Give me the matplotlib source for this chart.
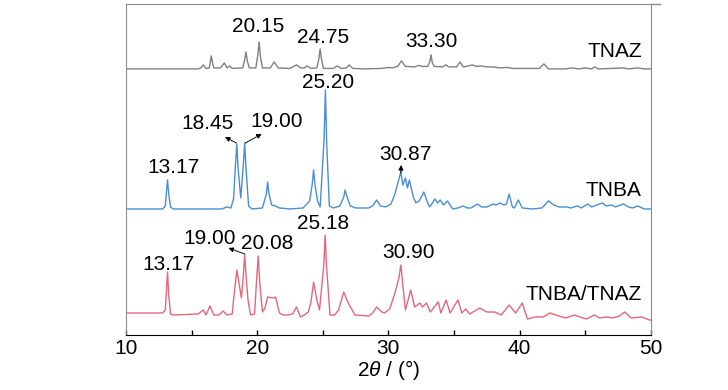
import matplotlib
matplotlib.use('Agg')
import matplotlib.pyplot as plt
from matplotlib import font_manager

# narrow Arial-like face if available
installed = {f.name for f in font_manager.fontManager.ttflist}
if 'Liberation Sans Narrow' in installed:
    family, fs = 'Liberation Sans Narrow', 17
else:
    family, fs = 'Liberation Sans', 15
plt.rcParams['font.family'] = [family, 'DejaVu Sans']
plt.rcParams['mathtext.fontset'] = 'custom'
plt.rcParams['mathtext.it'] = family + ':italic'
plt.rcParams['mathtext.rm'] = family

# 2theta (deg) / intensity (a.u., relative to each pattern's baseline)
tnaz_x = [10.0, 15.5, 15.7, 15.9, 16.1, 16.35, 16.43, 16.5, 16.6, 16.7, 17.2, 17.5, 17.7, 17.9, 18.1, 18.9,
          19.05, 19.15, 19.25, 19.4, 19.9, 20.05, 20.15, 20.25, 20.4, 21.0, 21.3, 21.6, 22.5, 23.0, 23.3,
          23.6, 23.8, 24.1, 24.55, 24.7, 24.8, 24.9, 25.05, 25.8, 26.1, 26.4, 26.8, 27.0, 27.3, 28.0, 29.5,
          30.0, 30.3, 30.7, 31.0, 31.3, 32.0, 32.3, 32.6, 33.0, 33.15, 33.25, 33.35, 33.5, 34.1, 34.4,
          34.6, 35.2, 35.45, 35.7, 36.1, 36.4, 36.7, 37.1, 37.5, 38.0, 38.5, 39.0, 39.5, 40.0, 41.5, 41.85,
          42.2, 43.5, 44.0, 44.5, 45.0, 45.5, 45.7, 46.0, 47.0, 47.9, 48.3, 49.0, 49.5, 50.0]
tnaz_y = [0, 0, 1, 4, 0.5, 1, 7, 13, 6, 1, 1, 6, 1, 3, 0.5, 1,
          9, 17, 8, 1, 1, 14, 27, 12, 1, 1, 7, 1, 0.5, 4, 1,
          1, 3, 0.5, 1, 10, 20, 10, 0.5, 0.5, 3, 0.5, 1, 4, 0.5, 0, 0.5,
          1.5, 1, 2.5, 8, 2.5, 2, 3.5, 2.5, 2.5, 7, 14, 6, 2.5, 2, 4,
          2, 2, 7, 2, 3, 4, 2.5, 3, 2, 2, 1, 1.5, 0.5, 0.5, 0.5, 5,
          0, 0, 1, 0, 1, 0, 2, 0, 0.5, 1, 0, 1, 0, 0]

tnba_x = [10.0, 12.8, 13.0, 13.08, 13.17, 13.26, 13.4, 13.6, 17.3, 17.7, 18.0, 18.2, 18.35, 18.45, 18.55,
          18.75, 18.95, 19.05, 19.15, 19.35, 19.6, 20.4, 20.7, 20.8, 20.9, 21.1, 21.4, 21.7, 22.5, 23.5,
          24.0, 24.2, 24.3, 24.4, 24.6, 24.8, 25.1, 25.2, 25.3, 25.5, 25.8, 26.3, 26.6, 26.7, 26.85, 27.1,
          27.5, 28.5, 28.8, 29.1, 29.4, 29.8, 30.2, 30.5, 30.95, 31.1, 31.3, 31.45, 31.6, 31.9, 32.1,
          32.35, 32.7, 33.0, 33.15, 33.55, 33.75, 33.95, 34.2, 34.5, 34.9, 35.3, 35.7, 36.0, 36.3, 36.8,
          37.1, 37.5, 38.0, 38.2, 38.5, 38.8, 39.0, 39.2, 39.45, 39.6, 39.9, 40.2, 41.0, 41.7, 42.2, 42.6,
          43.0, 43.6, 43.9, 44.4, 44.7, 45.2, 45.5, 45.9, 46.3, 46.6, 47.0, 47.3, 47.9, 48.3, 48.6, 49.0,
          49.5, 50.0]
tnba_y = [0, 0, 3, 16, 29, 15, 2, 0, 0, 2, 1, 10, 45, 65, 40,
          11, 45, 66, 40, 3, 0, 1, 15, 27, 15, 4, 3, 1, 0, 1,
          8, 25, 39, 25, 8, 2, 70, 119, 65, 3, 1, 3, 12, 19, 12, 3,
          1, 1, 3, 9, 3, 2, 5, 15, 37, 24, 31, 21, 29, 12, 6,
          8, 17, 6, 2, 10, 6, 9, 4, 8, 0, 1, 3, 1, 1, 5,
          2, 2, 5, 4, 6, 4, 5, 15, 2, 1, 9, 1, 0, 1, 8, 4,
          2, 2, 1, 3, 1, 5, 2, 4, 6, 3, 4, 2, 5, 2, 1, 3,
          0, 0]

mix_x = [10.0, 12.8, 13.0, 13.08, 13.17, 13.26, 13.4, 13.6, 15.5, 15.9, 16.1, 16.4, 16.7, 17.1, 17.4, 17.7,
         18.1, 18.2, 18.35, 18.45, 18.8, 18.95, 19.05, 19.15, 19.3, 19.5, 19.8, 19.98, 20.08, 20.18, 20.4,
         20.6, 20.8, 21.2, 21.4, 21.7, 22.0, 22.3, 22.7, 23.0, 23.3, 23.6, 23.9, 24.1, 24.2, 24.3, 24.55,
         24.75, 25.08, 25.18, 25.28, 25.55, 25.9, 26.2, 26.6, 26.9, 27.45, 28.5, 28.8, 29.1, 29.5, 29.7,
         30.1, 30.5, 30.8, 30.95, 31.1, 31.3, 31.7, 32.0, 32.4, 32.6, 32.9, 33.2, 33.8, 34.0, 34.4, 34.7,
         35.3, 35.6, 35.9, 36.2, 36.95, 37.5, 38.1, 38.6, 39.2, 39.7, 40.2, 40.6, 41.2, 41.8, 42.3, 43.0,
         43.5, 44.2, 44.6, 45.1, 45.7, 46.1, 46.6, 47.1, 47.6, 48.0, 48.5, 49.3, 49.9, 50.0]
mix_y = [7, 7, 10, 28, 48, 25, 6, 5, 6, 10, 5, 14, 5, 5, 9, 5,
         6, 20, 38, 50, 22, 45, 65, 45, 20, 5, 6, 45, 64, 40, 8,
         12, 23, 22, 23, 7, 5, 5, 6, 13, 3, 5, 8, 18, 28, 38, 20,
         10, 55, 85, 55, 5, 5, 10, 28, 18, 5, 4, 7, 13, 8, 7,
         11, 27, 42, 55, 35, 10, 30, 13, 17, 13, 17, 8, 18, 7, 20, 7,
         20, 7, 11, 6, 12, 8, 8, 5, 15, 7, 17, 1, 3, 3, 7, 4,
         2, 5, 3, 1, 5, 2, 3, 2, 4, 8, 2, 3, 0, 0]

names = ['TNAZ', 'TNBA', 'TNBA/TNAZ']
offsets = [266, 126, 15]
colors = ['#808080', '#4a8fd4', '#e5677a']

fig = plt.figure(figsize=(7.28, 3.9), dpi=100)
ax = fig.add_axes([0.173, 0.141, 0.721, 0.849])

for xs, ys, off, c in zip([tnaz_x, tnba_x, mix_x], [tnaz_y, tnba_y, mix_y], offsets, colors):
    ax.plot(xs, [v + off for v in ys], color=c, lw=1.0)

ax.set_xlim(10, 50)
ax.set_ylim(0, 331)
ax.set_yticks([])
ax.set_xticks([10, 20, 30, 40, 50])
ax.set_xticks([15, 25, 35, 45], minor=True)
ax.tick_params(axis='x', which='both', direction='in', length=3.5, width=1, labelsize=fs, pad=3)
for s in ['left', 'top', 'right']:
    ax.spines[s].set_color('#8c8c8c')
ax.spines['bottom'].set_color('black')
ax.axhline(331, xmin=1, xmax=1.017, color='#8c8c8c', lw=1, clip_on=False)
ax.set_xlabel(r'2$\theta$ / (°)', fontsize=fs, labelpad=0)

# peak labels
peak_labels = [
    ('20.15', 20.06, 308), ('24.75', 25.0, 297), ('33.30', 33.3, 293),
    ('25.20', 25.4, 252), ('18.45', 16.2, 211), ('19.00', 21.5, 213),
    ('13.17', 13.6, 167), ('30.87', 31.3, 180),
    ('25.18', 25.0, 111), ('19.00', 16.4, 96), ('20.08', 20.8, 91.5),
    ('13.17', 13.24, 70), ('30.90', 31.5, 82),
]
for t, x, y in peak_labels:
    ax.text(x, y, t, fontsize=fs, ha='center', va='center')

for name, y in zip(names, [283, 144, 40]):
    ax.text(49.3, y, name, fontsize=fs, ha='right', va='center')

arrow_kw = dict(arrowstyle='-|>', color='black', lw=0.8, linestyle=(0, (1, 1)), mutation_scale=7,
                shrinkA=0, shrinkB=0)
ax.annotate('', xy=(17.54, 198), xytext=(18.4, 192), arrowprops=arrow_kw)
ax.annotate('', xy=(20.36, 201), xytext=(19.1, 192), arrowprops=arrow_kw)
ax.annotate('', xy=(17.8, 87), xytext=(19.05, 81), arrowprops=arrow_kw)
ax.annotate('', xy=(30.97, 170), xytext=(30.95, 162),
            arrowprops=dict(arrowstyle='-|>', color='black', lw=0.8, mutation_scale=7, shrinkA=0, shrinkB=0))

fig.savefig('out.png', dpi=100)
